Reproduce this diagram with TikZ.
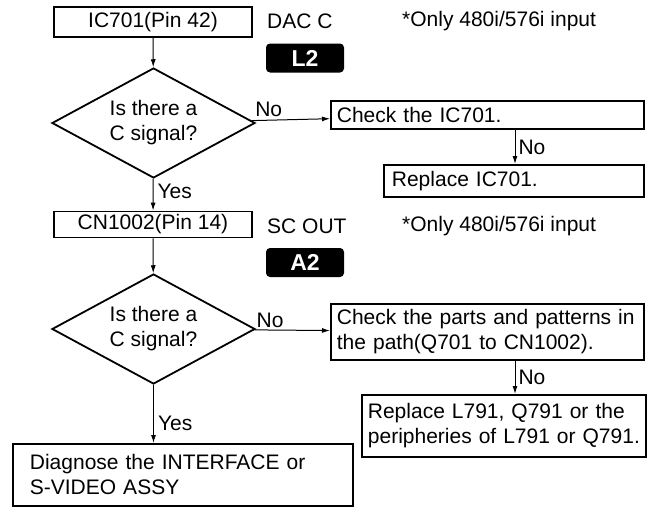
\documentclass[tikz,border=0pt]{standalone}
\usepackage{fontspec}
\setmainfont{Liberation Sans}
\usetikzlibrary{arrows.meta, shapes.geometric, positioning}

\begin{document}
\begin{tikzpicture}[
    x=1pt, y=-1pt,
    every node/.style={font=\fontsize{21}{25}\selectfont},
    box/.style={draw, rectangle, line width=1.8pt, inner sep=0pt},
    txtbox/.style={box, anchor=north west, align=left, inner ysep=0pt},
    decision/.style={draw, diamond, line width=1.8pt, aspect=1.85, inner sep=0pt,
      minimum width=203pt, minimum height=110pt, align=center},
    badge/.style={fill=black, rounded corners=4pt, minimum width=78pt, minimum height=29pt,
      inner sep=0pt, text=white, font=\fontsize{23}{25}\selectfont\bfseries},
    arr/.style={-{Latex[length=8pt, width=5pt]}, line width=1pt},
    lbl/.style={inner sep=0pt}
  ]
  \useasboundingbox (0,0) rectangle (652,506);

  % first check
  \node[box, minimum width=198pt, minimum height=30pt] (pin42) at (153,22) {IC701(Pin 42)};
  \node[lbl, anchor=west] (dacc) at (267,21) {DAC C};
  \node[lbl, anchor=west] (only1) at (402,21) {*Only 480i/576i input};
  \node[badge] (l2) at (305,58) {L2};
  \node[decision] (sig1) at (153.5,123) {Is there a\\C signal?};
  \node[txtbox, text width=301pt, inner xsep=6pt, minimum height=28pt] (chk1) at (330,100) {Check the IC701.};
  \node[txtbox, text width=244pt, inner xsep=8pt, minimum height=32pt] (rep1) at (383,164) {Replace IC701.};

  % second check
  \node[box, minimum width=198pt, minimum height=26pt] (pin14) at (153,224.5) {CN1002(Pin 14)};
  \node[lbl, anchor=west] (scout) at (267,226) {SC OUT};
  \node[lbl, anchor=west] (only2) at (402,226) {*Only 480i/576i input};
  \node[badge] (a2) at (305,262.5) {A2};
  \node[decision] (sig2) at (153.5,329) {Is there a\\C signal?};
  \node[txtbox, text width=301pt, inner xsep=6pt, minimum height=56pt] (chk2) at (330,303) {Check the parts and patterns in\\the path(Q701 to CN1002).};
  \node[txtbox, text width=272pt, inner xsep=6pt, minimum height=62pt] (rep2) at (361,394) {Replace L791, Q791 or the\\peripheries of L791 or Q791.};
  \node[txtbox, text width=306pt, inner xsep=17pt, minimum height=62pt] (diag) at (12,443) {Diagnose the INTERFACE or\\S-VIDEO ASSY};

  % connectors
  \draw[arr] (pin42) -- (sig1);
  \draw[arr] (sig1) -- node[lbl, above right=2pt and -36pt] {No} (chk1);
  \draw[arr] (chk1.south -| 515,0) -- (rep1.north -| 515,0) node[lbl, midway, right=3pt] {No};
  \draw[arr] (sig1) -- node[lbl, right=4pt, yshift=3pt] {Yes} (pin14);
  \draw[arr] (pin14) -- (sig2);
  \draw[arr] (sig2) -- node[lbl, above right=2pt and -36pt] {No} (chk2);
  \draw[arr] (chk2.south -| 515,0) -- (rep2.north -| 515,0) node[lbl, midway, right=3pt] {No};
  \draw[arr] (sig2) -- node[lbl, right=4pt, yshift=-9pt] {Yes} (diag.north -| sig2);
\end{tikzpicture}
\end{document}
